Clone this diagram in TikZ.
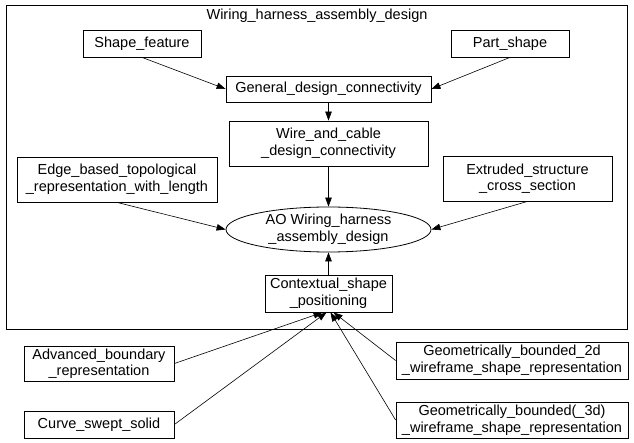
\documentclass[tikz,border=0pt]{standalone}
\usepackage{fontspec}
\setmainfont{Liberation Sans}
\usetikzlibrary{arrows.meta,shapes.geometric}
\begin{document}
\begin{tikzpicture}[x=1pt, y=-1pt,
		every node/.style={font=\fontsize{14.5}{16.5}\selectfont, align=center},
		entity/.style={draw, line width=.8pt, inner sep=2pt},
		edge/.style={line width=.6pt, -{Triangle[length=9pt, width=6.5pt]}}]
		\useasboundingbox (0,0) rectangle (634,443);
		% frame of the schema
		\draw [line width=.8pt] (6,5) rectangle (627,329.5);
		\node (title) at (317,16) {Wiring\_harness\_assembly\_design};
		% entities inside the schema
		\node [entity, minimum width=118pt, minimum height=27pt] (sf) at (142,43.5) {Shape\_feature};
		\node [entity, minimum width=118pt, minimum height=27pt] (ps) at (510,43.5) {Part\_shape};
		\node [entity, minimum width=205pt, minimum height=26pt] (gdc) at (328.5,89) {General\_design\_connectivity};
		\node [entity, minimum width=199pt, minimum height=45pt] (wcd) at (328.5,143.5) {Wire\_and\_cable\\\_design\_connectivity};
		\node [entity, minimum width=200pt, minimum height=45pt] (ebt) at (117,179.5) {Edge\_based\_topological\\\_representation\_with\_length};
		\node [entity, minimum width=169pt, minimum height=45pt] (esc) at (527.5,178.5) {Extruded\_structure\\\_cross\_section};
		\node [entity, ellipse, inner sep=0pt, minimum width=205pt, minimum height=45pt] (ao) at (328.5,229.5) {AO Wiring\_harness\\\_assembly\_design};
		\node [entity, minimum width=127pt, minimum height=37pt] (csp) at (328.5,293.5) {Contextual\_shape\\\_positioning};
		% entities outside the schema
		\node [entity, minimum width=150pt, minimum height=35pt] (abr) at (99,363.5) {Advanced\_boundary\\\_representation};
		\node [entity, minimum width=150pt, minimum height=27pt] (css) at (99,424.5) {Curve\_swept\_solid};
		\node [entity, minimum width=232pt, minimum height=37pt] (gb2) at (512,360.5) {Geometrically\_bounded\_2d\\\_wireframe\_shape\_representation};
		\node [entity, minimum width=232pt, minimum height=36pt] (gb3) at (512,420) {Geometrically\_bounded(\_3d)\\\_wireframe\_shape\_representation};
		% references
		\draw [edge] (sf.south) -- (gdc.west);
		\draw [edge] (ps.south) -- (gdc.east);
		\draw [edge] (gdc) -- (wcd);
		\draw [edge] (wcd) -- (ao);
		\draw [edge] (ebt.south) -- (ao.west);
		\draw [edge] (esc.south) -- (ao.east);
		\draw [edge] (csp) -- (ao);
		\draw [edge] (abr.east) -- ([xshift=-6pt]csp.south);
		\draw [edge] (css.east) -- ([xshift=-2pt]csp.south);
		\draw [edge] (gb2.west) -- ([xshift=5pt]csp.south);
		\draw [edge] (gb3.west) -- ([xshift=2pt]csp.south);
	\end{tikzpicture}
\end{document}
